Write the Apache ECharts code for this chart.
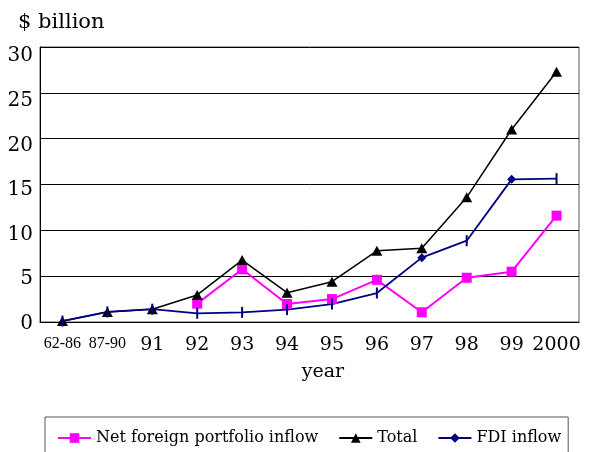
<!DOCTYPE html>
<html>
<head>
<meta charset="utf-8">
<script src="https://cdn.jsdelivr.net/npm/echarts@6/dist/echarts.min.js"></script>
<style>
html,body{margin:0;padding:0;background:#fff;}
#chart{width:593px;height:452px;}
</style>
</head>
<body>
<div id="chart"></div>
<script>
const categories = ['62-86','87-90','91','92','93','94','95','96','97','98','99','2000'];
const portfolio = [null,null,null,2.0,5.75,1.96,2.5,4.6,1.06,4.83,5.49,11.6];
const total = [0.1,1.1,1.4,2.95,6.76,3.2,4.4,7.76,8.04,13.6,21.0,27.3];
const fdi = [0.1,1.1,1.4,0.95,1.05,1.35,1.96,3.16,7.02,8.87,15.56,15.64];
const yTicks = [0,5,10,15,20,25,30];
const seriesNames = ['Net foreign portfolio inflow','Total','FDI inflow'];

const SERIF = "'DejaVu Serif', serif";
const diamondIdx = [8, 10];
const fdiData = fdi.map((v, i) => diamondIdx.indexOf(i) >= 0
  ? { value: v, symbol: 'diamond', symbolSize: 9 }
  : { value: v, symbol: 'rect', symbolSize: [2, 11] });

const rich = {};
yTicks.forEach(v => {
  rich['v' + v] = { fontFamily: SERIF, fontSize: 20, color: '#000', padding: [Math.round(4 + v * 0.48), 0, 0, 0] };
});

const chart = echarts.init(document.getElementById('chart'), null, { renderer: 'canvas' });
chart.setOption({
  animation: false,
  backgroundColor: '#fff',
  grid: { left: 40, right: 14, top: 47, bottom: 130, show: true, borderColor: '#555', borderWidth: 1 },
  graphic: [
    { type: 'text', x: 18, y: 23, style: { text: '$ billion', font: "21px 'DejaVu Serif'", fill: '#000', verticalAlign: 'middle' } },
    { type: 'text', x: 323, y: 372, style: { text: 'year', font: "19px 'DejaVu Serif'", fill: '#000', align: 'center', verticalAlign: 'middle' } }
  ],
  legend: {
    left: 45, top: 417,
    padding: [13, 7, 24, 12],
    borderColor: '#555', borderWidth: 1,
    itemWidth: 33, itemHeight: 12, itemGap: 20,
    textStyle: { fontFamily: SERIF, fontSize: 16, color: '#000' },
    data: seriesNames
  },
  xAxis: {
    type: 'category',
    data: categories,
    boundaryGap: true,
    axisLine: { lineStyle: { color: '#000', width: 1 } },
    axisTick: { inside: true, length: 4, lineStyle: { color: '#000' } },
    axisLabel: {
      interval: 0, margin: 14, color: '#000', fontFamily: SERIF, fontSize: 19,
      formatter: v => v.indexOf('-') >= 0 ? '{n|' + v + '}' : v,
      rich: { n: { fontFamily: "'Liberation Serif', serif", fontSize: 16, color: '#000' } }
    },
    splitLine: { show: false }
  },
  yAxis: {
    type: 'value', min: 0, max: 30, interval: 5,
    axisLine: { show: true, lineStyle: { color: '#000', width: 1 } },
    axisTick: { show: false },
    axisLabel: {
      margin: 7, color: '#000', fontFamily: SERIF, fontSize: 20,
      formatter: v => '{v' + v + '|' + v + '}',
      rich: rich
    },
    splitLine: { lineStyle: { color: '#000', width: 1 } }
  },
  series: [
    {
      name: seriesNames[0], type: 'line', data: portfolio,
      symbol: 'rect', symbolSize: 10, connectNulls: false,
      lineStyle: { color: '#FF00FF', width: 2 },
      itemStyle: { color: '#FF00FF' }
    },
    {
      name: seriesNames[1], type: 'line', data: total,
      symbol: 'triangle', symbolSize: [11, 10],
      lineStyle: { color: '#000', width: 1.5 },
      itemStyle: { color: '#000' }
    },
    {
      name: seriesNames[2], type: 'line', data: fdiData,
      symbol: 'diamond', symbolSize: 9,
      lineStyle: { color: '#000080', width: 1.8 },
      itemStyle: { color: '#000080' }
    }
  ]
});
</script>
</body>
</html>
